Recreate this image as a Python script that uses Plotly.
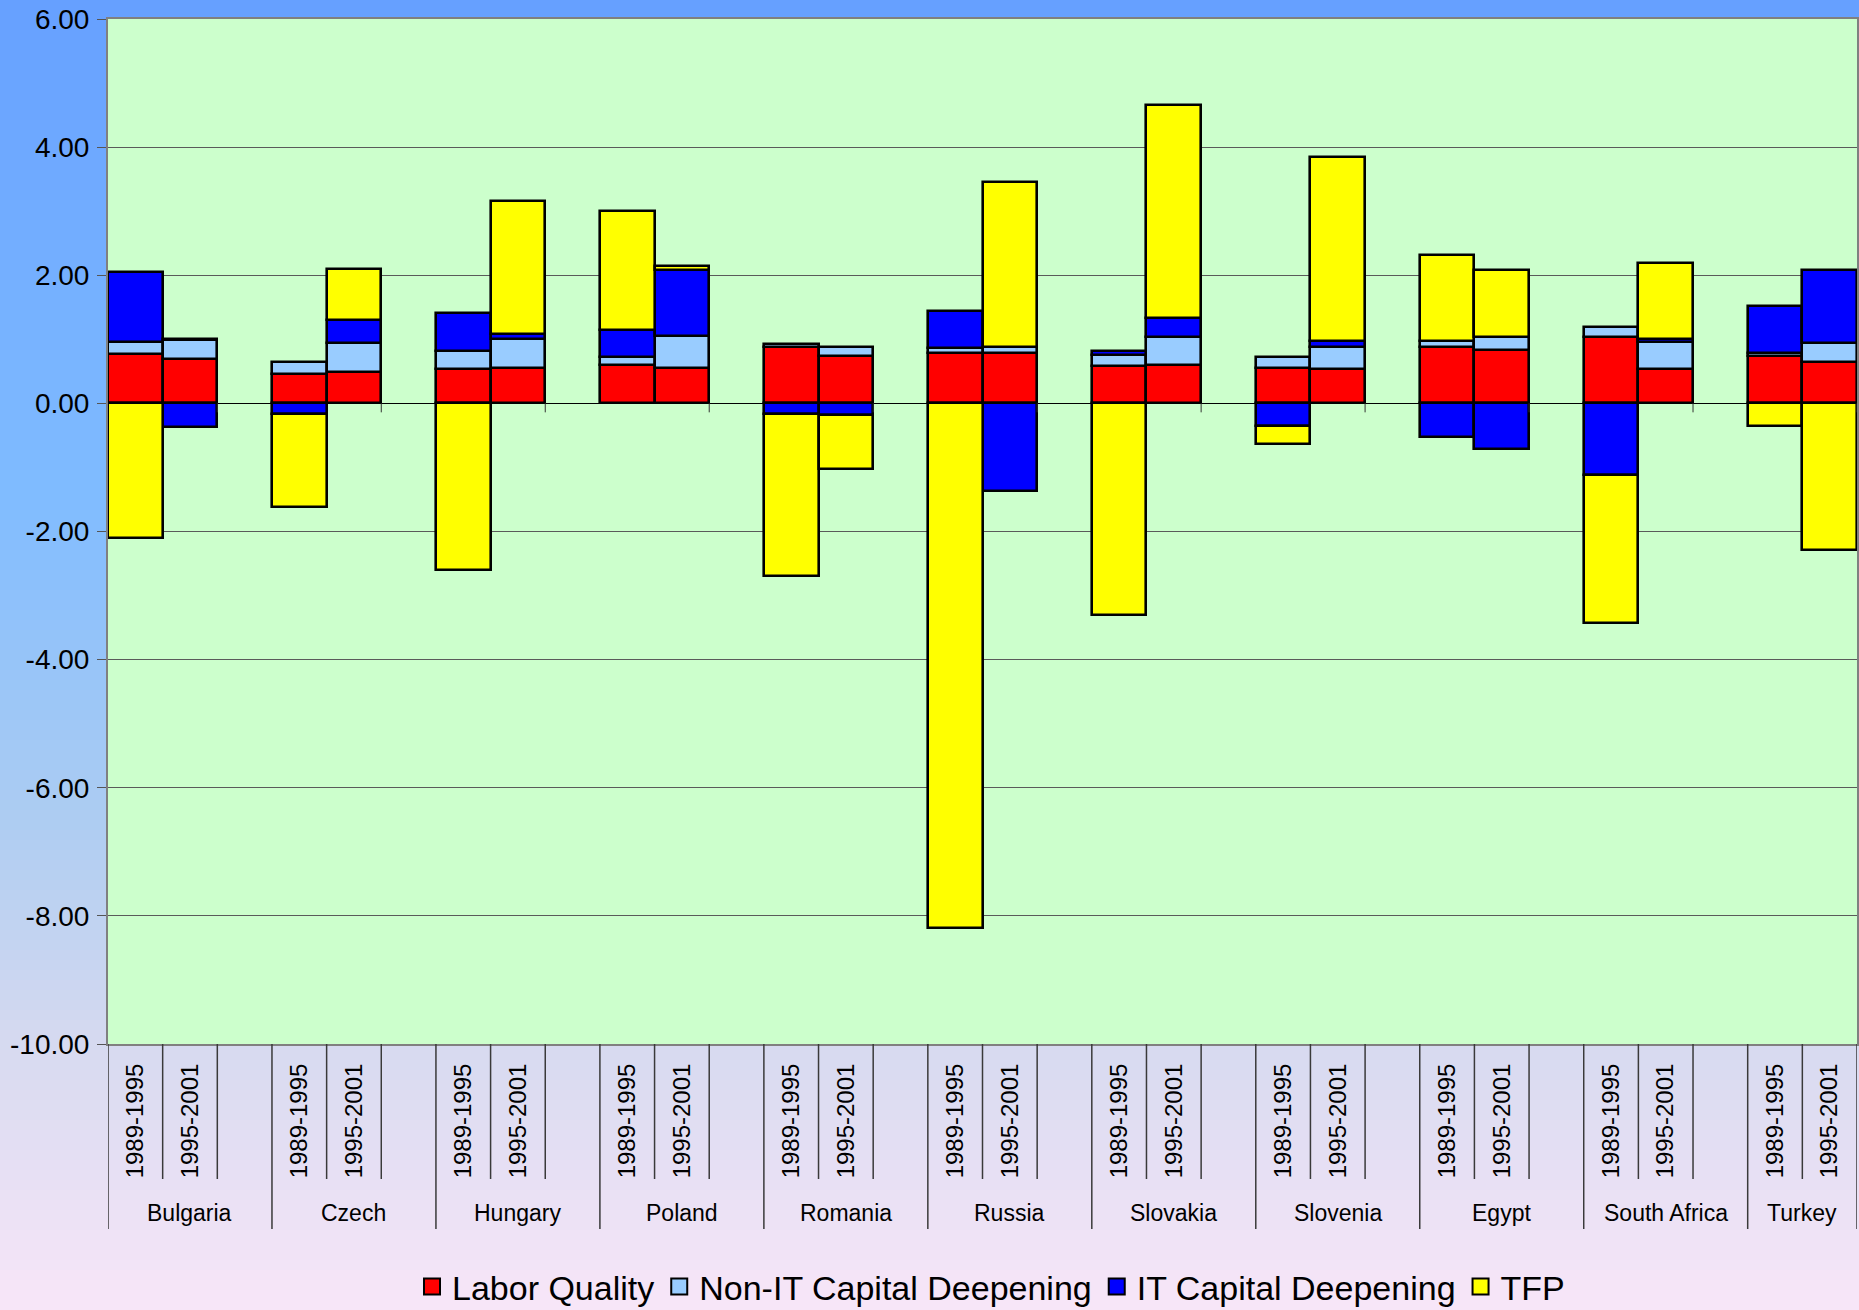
import plotly.graph_objects as go

# ---------------- data ----------------
countries = ["Bulgaria", "Czech", "Hungary", "Poland", "Romania", "Russia",
             "Slovakia", "Slovenia", "Egypt", "South Africa", "Turkey"]
periods = ["1989-1995", "1995-2001"]

labor_quality = [0.77, 0.69, 0.46, 0.49, 0.53, 0.55, 0.60, 0.56, 0.88, 0.74, 0.79,
                 0.79, 0.58, 0.60, 0.56, 0.53, 0.88, 0.84, 1.04, 0.53, 0.74, 0.64]
non_it_capital = [0.19, 0.30, 0.19, 0.45, 0.29, 0.45, 0.13, 0.49, 0.04, 0.14, 0.08,
                  0.09, 0.17, 0.44, 0.16, 0.35, 0.10, 0.20, 0.15, 0.43, 0.05, 0.30]
it_capital = [1.09, -0.37, -0.16, 0.36, 0.59, 0.09, 0.41, 1.03, -0.16, -0.18, 0.57,
              -1.36, 0.07, 0.30, -0.36, 0.10, -0.53, -0.71, -1.12, 0.04, 0.73, 1.14]
tfp = [-2.10, 0.02, -1.45, 0.79, -2.60, 2.07, 1.86, 0.06, -2.54, -0.84, -8.19,
       2.57, -3.31, 3.32, -0.27, 2.87, 1.34, 1.04, -2.31, 1.19, -0.36, -2.29]

series_names = ["Labor Quality", "Non-IT Capital Deepening", "IT Capital Deepening", "TFP"]
series_values = [labor_quality, non_it_capital, it_capital, tfp]
series_colors = ["#FF0000", "#99CCFF", "#0000FF", "#FFFF00"]

y_ticks = [6, 4, 2, 0, -2, -4, -6, -8, -10]

# ---------------- geometry helpers ----------------
W, H = 1859, 1310
ML, MR, MT, MB = 108, 2, 19, 266
PH = H - MT - MB
slots_per_group = len(periods) + 1
x_range = [-0.5, 31.5]

xs = [slots_per_group * ci + pj for ci in range(len(countries)) for pj in range(len(periods))]
xlabels = [p for c in countries for p in periods]

FONT = "Liberation Sans, Arial, sans-serif"

fig = go.Figure()
for name, vals, col in zip(series_names, series_values, series_colors):
    fig.add_trace(go.Bar(
        x=xs, y=vals, name=name, showlegend=False, legendgroup=name,
        marker=dict(color=col, line=dict(color="black", width=2.6)),
    ))
# legend entries (larger square symbols)
for name, col in zip(series_names, series_colors):
    fig.add_trace(go.Scatter(
        x=[None], y=[None], mode="markers", name=name, legendgroup=name,
        marker=dict(symbol="square", size=16, color=col, line=dict(color="black", width=2)),
    ))

shapes = []


def py(p):
    return (H - MB - p) / PH


# background gradient (stripes)
stops = [(0.0, (102, 160, 255)), (0.38, (128, 188, 255)), (0.62, (172, 204, 242)),
         (0.80, (215, 218, 240)), (1.0, (248, 230, 248))]


def grad(t):
    for (t0, c0), (t1, c1) in zip(stops[:-1], stops[1:]):
        if t0 <= t <= t1:
            f = (t - t0) / (t1 - t0)
            return tuple(round(a + (b - a) * f) for a, b in zip(c0, c1))
    return stops[-1][1]


step = 10
for p in range(0, H, step):
    c = grad((p + step / 2) / H)
    top = p - 40 if p == 0 else p
    bot = p + step + 1 if p + step < H else H + 60
    shapes.append(dict(type="rect", xref="paper", yref="paper", layer="below",
                       x0=-1, x1=2, y0=py(bot), y1=py(top),
                       fillcolor="rgb(%d,%d,%d)" % c, line=dict(width=0)))
# plot area background
shapes.append(dict(type="rect", xref="paper", yref="paper", layer="below",
                   x0=0, x1=1, y0=0, y1=1, fillcolor="#CCFFCC", line=dict(width=0)))

# category separators under the plot
inner_len = -(1179 - (H - MB)) / PH
group_len = -(1229 - (H - MB)) / PH
for ci in range(len(countries)):
    base = slots_per_group * ci
    for pj in range(len(periods)):
        xb = base + pj + 0.5
        if xb <= x_range[1]:
            shapes.append(dict(type="line", xref="x", yref="paper", x0=xb, x1=xb,
                               y0=0, y1=inner_len if xb < x_range[1] else group_len,
                               line=dict(color="#3a3a3a", width=1.5)))
    shapes.append(dict(type="line", xref="x", yref="paper", x0=base - 0.5, x1=base - 0.5,
                       y0=0, y1=group_len, line=dict(color="#3a3a3a", width=1.5)))
    # small tick marks on the zero line
    xt = base + len(periods) - 0.5
    shapes.append(dict(type="line", xref="x", yref="y", x0=xt, x1=xt, y0=0, y1=-0.14,
                       line=dict(color="#333333", width=1)))

fig.update_layout(shapes=shapes)

# country labels
for ci, c in enumerate(countries):
    g0 = slots_per_group * ci - 0.5
    g1 = min(g0 + slots_per_group, x_range[1])
    fig.add_annotation(x=(g0 + g1) / 2, y=py(1213), xref="x", yref="paper",
                       text=c, showarrow=False, yanchor="middle",
                       font=dict(family=FONT, size=23, color="black"))

fig.update_layout(
    width=W, height=H,
    margin=dict(l=ML, r=MR, t=MT, b=MB, pad=0, autoexpand=False),
    paper_bgcolor="rgb(230,225,245)",
    plot_bgcolor="rgba(0,0,0,0)",
    barmode="relative", bargap=0,
    font=dict(family=FONT, color="black"),
    xaxis=dict(range=x_range, tickmode="array", tickvals=xs, ticktext=xlabels,
               tickangle=-90, ticks="", ticklabelstandoff=8,
               tickfont=dict(family=FONT, size=24, color="black"),
               showgrid=False, zeroline=False, showline=True, mirror=True,
               linecolor="#808080", linewidth=2),
    yaxis=dict(range=[-10, 6], tickmode="array", tickvals=y_ticks,
               ticktext=["%.2f" % v for v in y_ticks],
               ticks="outside", ticklen=9, tickcolor="#555555", tickwidth=1,
               ticklabelstandoff=2,
               tickfont=dict(family=FONT, size=28, color="black"),
               showgrid=True, gridcolor="#5a5a5a", gridwidth=1,
               zeroline=True, zerolinecolor="black", zerolinewidth=1.2,
               showline=True, mirror=True, linecolor="#808080", linewidth=2),
    legend=dict(orientation="h", x=(412 - ML) / (W - ML - MR), xanchor="left",
                y=py(1287), yanchor="middle", bgcolor="rgba(0,0,0,0)",
                font=dict(family=FONT, size=34, color="black"),
                itemclick=False, itemdoubleclick=False),
)

fig.write_html("out.html", config={"displayModeBar": False},
               post_script="document.body.style.margin='0';document.body.style.overflow='hidden';")
